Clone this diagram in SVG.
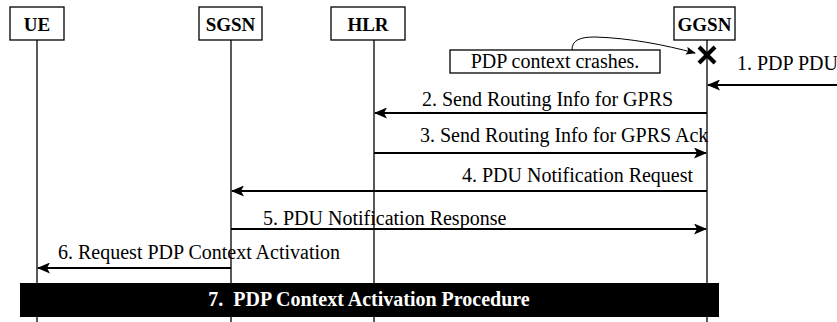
<svg xmlns="http://www.w3.org/2000/svg" width="837" height="322" viewBox="0 0 837 322">
<style>
.box{fill:#fff;stroke:#000;stroke-width:1.3}
.life{stroke:#000;stroke-width:1.3}
.msg{stroke:#000;stroke-width:2;fill:none}
.hdr{font-weight:bold;font-size:19px;text-anchor:middle}
.lbl{font-size:20px}
</style>
<defs>
<marker id="ah" markerWidth="13" markerHeight="11" refX="12" refY="5.5" orient="auto" markerUnits="userSpaceOnUse">
<path d="M0,0 L13,5.5 L0,11 L3,5.5 Z" fill="#000"/>
</marker>
<marker id="sh" markerWidth="10" markerHeight="8" refX="9" refY="4" orient="auto" markerUnits="userSpaceOnUse">
<path d="M0,0 L10,4 L0,8 L2,4 Z" fill="#000"/>
</marker>
</defs>
<g font-family="Liberation Serif, DejaVu Serif, serif">
<g id="lifelines">
<line class="life" x1="37" y1="40" x2="37" y2="322"/>
<line class="life" x1="231" y1="40" x2="231" y2="322"/>
<line class="life" x1="374" y1="40" x2="374" y2="322"/>
<line class="life" x1="707" y1="40" x2="707" y2="322"/>
</g>
<g id="UE"><rect class="box" x="10" y="7" width="54" height="33"/><text class="hdr" x="37" y="31">UE</text></g>
<g id="SGSN"><rect class="box" x="199" y="7" width="63" height="33"/><text class="hdr" x="230.5" y="31">SGSN</text></g>
<g id="HLR"><rect class="box" x="331" y="7" width="74" height="33"/><text class="hdr" x="368" y="31">HLR</text></g>
<g id="GGSN"><rect class="box" x="674" y="7" width="61" height="33"/><text class="hdr" x="704.5" y="31">GGSN</text></g>
<g id="note"><rect class="box" x="450" y="50" width="210" height="23"/><text class="lbl" x="555" y="68" text-anchor="middle">PDP context crashes.</text></g>
<g id="crash"><line x1="699" y1="47" x2="715" y2="63" stroke="#000" stroke-width="4"/><line x1="715" y1="47" x2="699" y2="63" stroke="#000" stroke-width="4"/></g>
<g id="connectors">
<path d="M572,50 C572,40 580,37 595,37 C630,38 665,45 695,53" fill="none" stroke="#000" stroke-width="1" marker-end="url(#sh)"/>
<line class="msg" x1="837" y1="85" x2="708" y2="85" marker-end="url(#ah)"/>
<line class="msg" x1="707" y1="113" x2="375" y2="113" marker-end="url(#ah)"/>
<line class="msg" x1="374" y1="153" x2="706" y2="153" marker-end="url(#ah)"/>
<line class="msg" x1="707" y1="191" x2="232" y2="191" marker-end="url(#ah)"/>
<line class="msg" x1="231" y1="229" x2="706" y2="229" marker-end="url(#ah)"/>
<line class="msg" x1="231" y1="268" x2="38" y2="268" marker-end="url(#ah)"/>
</g>
<g id="labels">
<text class="lbl" x="737" y="70">1. PDP PDU</text>
<text class="lbl" x="422" y="106">2. Send Routing Info for GPRS</text>
<text class="lbl" x="420" y="142">3. Send Routing Info for GPRS Ack</text>
<text class="lbl" x="462" y="182">4. PDU Notification Request</text>
<text class="lbl" x="263" y="225">5. PDU Notification Response</text>
<text class="lbl" x="58" y="259">6. Request PDP Context Activation</text>
</g>
<g id="procedure">
<rect x="20" y="283" width="699" height="34" fill="#000"/>
<text x="369" y="306" text-anchor="middle" fill="#fff" font-weight="bold" font-size="20" xml:space="preserve">7.  PDP Context Activation Procedure</text>
</g>
</g>
</svg>
